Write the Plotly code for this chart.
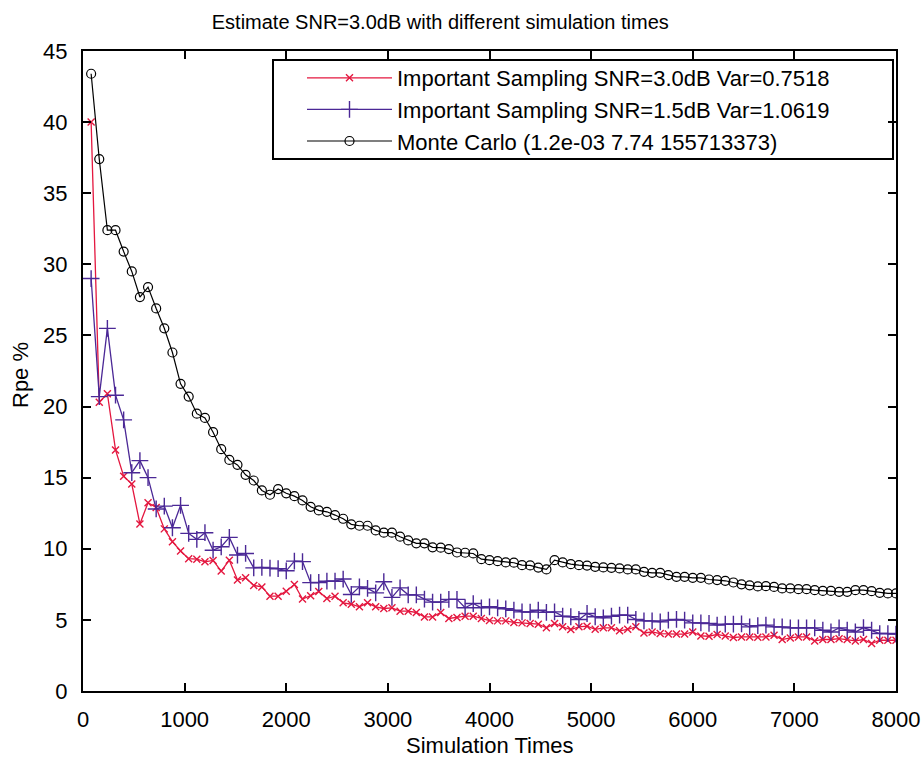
import plotly.graph_objects as go

# ---------------- data ----------------
simulation_times = list(range(80, 8001, 80))

rpe_is_30db = [
    40.0, 20.3, 20.9, 16.95, 15.1, 14.55, 11.74, 13.24, 12.9, 11.4,
    10.5, 9.84, 9.3, 9.27, 9.08, 9.18, 8.43, 9.2, 7.8, 7.96,
    7.42, 7.32, 6.67, 6.67, 7.02, 7.49, 6.47, 6.7, 7.0, 6.5,
    6.67, 6.2, 6.1, 5.92, 6.2, 5.92, 5.8, 5.85, 5.61, 5.61,
    5.52, 5.21, 5.21, 5.52, 5.1, 5.17, 5.26, 5.26, 5.1, 4.95,
    4.93, 4.93, 4.82, 4.79, 4.75, 4.7, 4.44, 4.75, 4.51, 4.32,
    4.51, 4.56, 4.34, 4.44, 4.44, 4.23, 4.34, 4.51, 4.08, 4.15,
    4.04, 4.0, 4.0, 4.0, 4.15, 3.87, 3.85, 3.98, 3.87, 3.76,
    3.8, 3.8, 3.78, 3.8, 3.92, 3.62, 3.73, 3.8, 3.8, 3.52,
    3.62, 3.62, 3.68, 3.62, 3.52, 3.62, 3.34, 3.57, 3.57, 3.57,
]

rpe_is_15db = [
    29.0, 20.7, 25.5, 20.8, 19.06, 15.35, 16.2, 15.0, 12.8, 13.0,
    11.48, 13.05, 11.08, 10.66, 11.13, 9.9, 10.14, 10.8, 9.56, 9.67,
    8.66, 8.69, 8.64, 8.6, 8.45, 9.13, 9.1, 7.62, 7.63, 7.72,
    7.72, 7.87, 6.79, 7.32, 7.21, 6.9, 7.68, 6.58, 7.25, 6.76,
    6.76, 6.46, 6.25, 6.25, 6.44, 6.44, 5.85, 6.15, 5.85, 5.92,
    5.85, 5.78, 5.68, 5.56, 5.55, 5.68, 5.53, 5.56, 5.26, 5.22,
    5.03, 5.45, 5.22, 5.14, 5.26, 5.33, 5.33, 5.03, 4.93, 4.93,
    4.86, 4.98, 5.03, 4.98, 4.79, 4.79, 4.75, 4.63, 4.7, 4.7,
    4.72, 4.51, 4.6, 4.63, 4.51, 4.51, 4.44, 4.44, 4.44, 4.44,
    4.27, 4.15, 4.44, 4.27, 4.15, 4.46, 4.27, 4.04, 4.04, 4.0,
]

rpe_monte_carlo = [
    43.4, 37.4, 32.4, 32.4, 30.9, 29.5, 27.7, 28.4, 26.9, 25.5,
    23.8, 21.6, 20.7, 19.5, 19.2, 18.2, 17.0, 16.25, 15.9, 15.2,
    14.8, 14.1, 13.8, 14.2, 13.9, 13.7, 13.4, 12.95, 12.7, 12.6,
    12.37, 12.11, 11.72, 11.62, 11.62, 11.29, 11.13, 11.13, 10.85, 10.59,
    10.38, 10.38, 10.1, 10.08, 9.98, 9.74, 9.72, 9.67, 9.27, 9.2,
    9.13, 9.04, 9.02, 8.85, 8.83, 8.68, 8.55, 9.2, 9.04, 8.92,
    8.85, 8.82, 8.73, 8.69, 8.66, 8.62, 8.55, 8.55, 8.38, 8.31,
    8.31, 8.15, 8.03, 8.03, 7.96, 7.96, 7.84, 7.8, 7.75, 7.63,
    7.5, 7.43, 7.35, 7.37, 7.32, 7.21, 7.21, 7.16, 7.16, 7.09,
    7.04, 7.04, 6.97, 6.97, 7.09, 7.09, 7.02, 6.9, 6.86, 6.86,
]

series_names = [
    "Important Sampling SNR=3.0dB Var=0.7518",
    "Important Sampling SNR=1.5dB Var=1.0619",
    "Monte Carlo (1.2e-03 7.74 155713373)",
]

x_ticks = [0, 1000, 2000, 3000, 4000, 5000, 6000, 7000, 8000]
y_ticks = [0, 5, 10, 15, 20, 25, 30, 35, 40, 45]

# ---------------- styling ----------------
FONT = "Liberation Sans, Arial, Helvetica, sans-serif"
RED = "#e4173f"
PURPLE = "#4b2896"
BLACK = "#000000"

W, H = 923, 760
ML, MR, MT, MB = 83, 27, 51, 69

fig = go.Figure()

fig.add_trace(go.Scatter(
    x=simulation_times, y=rpe_is_30db, name=series_names[0],
    mode="lines+markers",
    line=dict(color=RED, width=1.3),
    marker=dict(symbol="x-thin-open", size=7, color=RED,
                line=dict(color=RED, width=1.4)),
))
fig.add_trace(go.Scatter(
    x=simulation_times, y=rpe_is_15db, name=series_names[1],
    mode="lines+markers",
    line=dict(color=PURPLE, width=1.3),
    marker=dict(symbol="cross-thin-open", size=12, color=PURPLE,
                line=dict(color=PURPLE, width=1.4)),
))
fig.add_trace(go.Scatter(
    x=simulation_times, y=rpe_monte_carlo, name=series_names[2],
    mode="lines+markers",
    line=dict(color=BLACK, width=1.2),
    marker=dict(symbol="circle-open", size=9, color=BLACK,
                line=dict(color=BLACK, width=1.2)),
))

plot_w = W - ML - MR
plot_h = H - MT - MB

def px_to_paper_x(px):
    return (px - ML) / plot_w

def px_to_paper_y(py):
    return (H - MB - py) / plot_h

axis_common = dict(
    showgrid=False, zeroline=False, showline=True, linecolor="black",
    linewidth=2, mirror="ticks", ticks="inside", ticklen=8, tickwidth=1.5,
    tickcolor="black", tickfont=dict(family=FONT, size=22, color="black"),
)

fig.update_layout(
    width=W, height=H,
    margin=dict(l=ML, r=MR, t=MT, b=MB, pad=0, autoexpand=False),
    paper_bgcolor="white", plot_bgcolor="white",
    font=dict(family=FONT, color="black"),
    title=dict(
        text="Estimate SNR=3.0dB with different simulation times",
        font=dict(family=FONT, size=20, color="black"),
        x=0.477, xref="container", xanchor="center",
        y=1 - 22 / H, yref="container", yanchor="middle",
    ),
    xaxis=dict(range=[0, 8000], tickvals=x_ticks, ticklabelstandoff=8,
               **axis_common),
    yaxis=dict(range=[0, 45], tickvals=y_ticks, ticklabelstandoff=9,
               **axis_common),
    showlegend=True,
    legend=dict(
        x=px_to_paper_x(302), y=px_to_paper_y(57),
        xanchor="left", yanchor="top",
        bgcolor="rgba(0,0,0,0)", borderwidth=0,
        font=dict(family=FONT, size=22, color="black"),
        itemwidth=85,
    ),
    shapes=[dict(
        type="rect", xref="paper", yref="paper", layer="below",
        x0=px_to_paper_x(273), x1=px_to_paper_x(893),
        y0=px_to_paper_y(159), y1=px_to_paper_y(60),
        line=dict(color="black", width=2), fillcolor="white",
    )],
    annotations=[
        dict(text="Simulation Times", xref="paper", yref="paper",
             x=0.5, y=0, xanchor="center", yanchor="middle", yshift=-54,
             showarrow=False, font=dict(family=FONT, size=22, color="black")),
        dict(text="Rpe %", xref="paper", yref="paper", textangle=-90,
             x=0, y=px_to_paper_y(375), xanchor="center", yanchor="middle",
             xshift=-63, showarrow=False,
             font=dict(family=FONT, size=22, color="black")),
    ],
)

fig.write_html("out.html")
